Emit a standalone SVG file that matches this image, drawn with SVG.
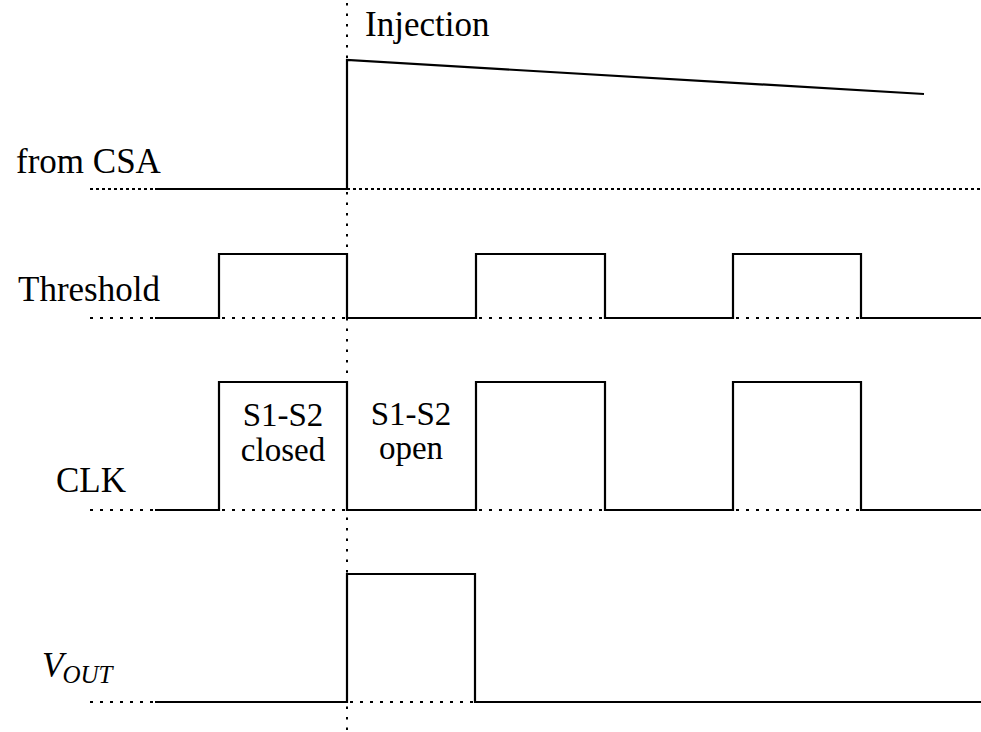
<svg xmlns="http://www.w3.org/2000/svg" width="981" height="732" viewBox="0 0 981 732">
<style>
.sig{fill:none;stroke:#000;stroke-width:2.2;stroke-linejoin:miter}
.dot{fill:none;stroke:#000;stroke-width:2.2;stroke-dasharray:3 7}
.dense{fill:none;stroke:#000;stroke-width:2.2;stroke-dasharray:3 3}
.vdot{fill:none;stroke:#000;stroke-width:2;stroke-dasharray:2.5 8}
.lbl{font-family:'Liberation Serif','Times New Roman',serif;font-size:35px;fill:#000}
.sm{font-family:'Liberation Serif','Times New Roman',serif;font-size:33px;fill:#000}
</style>
<rect width="981" height="732" fill="#fff"/>
<g id="connectors">
<path class="vdot" d="M347,3 V732"/>
<path class="dense" d="M90,189 H155"/>
<path class="dense" d="M347,189 H981"/>
<path class="dot" d="M90,318 H155 M222,318 H347 M479,318 H605 M736,318 H861"/>
<path class="dot" d="M90,510 H155 M222,510 H347 M479,510 H605 M736,510 H861"/>
<path class="dot" d="M90,702 H155 M350,702 H475"/>
</g>
<g id="csa">
<text class="lbl" x="16" y="173">from CSA</text>
<path class="sig" d="M155,189 H347 V60 L924,94"/>
</g>
<g id="injection">
<text class="lbl" x="365" y="36">Injection</text>
</g>
<g id="threshold">
<text class="lbl" x="18" y="301">Threshold</text>
<path class="sig" d="M155,318 H219 V254 H347 V318 H476 V254 H605 V318 H733 V254 H861 V318 H981"/>
</g>
<g id="clk">
<text class="lbl" x="56" y="492">CLK</text>
<path class="sig" d="M155,510 H219 V382 H347 V510 H476 V382 H605 V510 H733 V382 H861 V510 H981"/>
<text class="sm" x="283" y="426" text-anchor="middle">S1-S2</text>
<text class="sm" x="283" y="461" text-anchor="middle">closed</text>
<text class="sm" x="411" y="425" text-anchor="middle">S1-S2</text>
<text class="sm" x="411" y="459" text-anchor="middle">open</text>
</g>
<g id="vout">
<text class="lbl" x="42" y="677" font-style="italic">V<tspan font-size="25" dy="6" dx="-1">OUT</tspan></text>
<path class="sig" d="M155,702 H347 V574 H475 V702 H981"/>
</g>
</svg>
